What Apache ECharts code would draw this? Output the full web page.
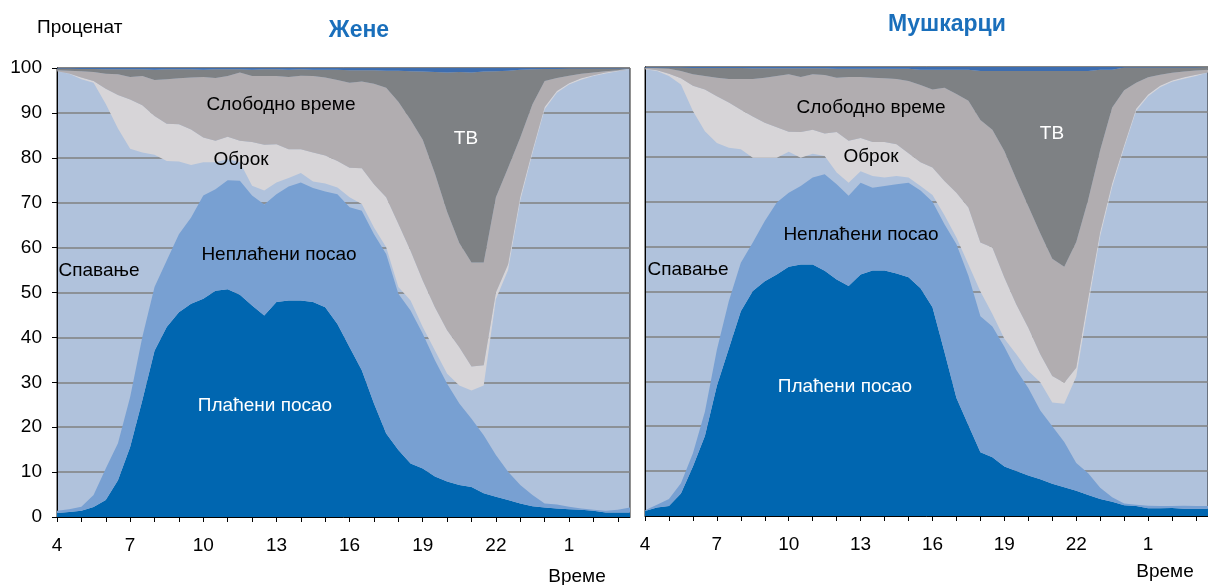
<!DOCTYPE html>
<html>
<head>
<meta charset="utf-8">
<script src="https://cdn.jsdelivr.net/npm/echarts@6/dist/echarts.min.js"></script>
<style>
  html, body { margin: 0; padding: 0; background: #fff; }
  #chart { width: 1208px; height: 585px; }
</style>
</head>
<body>
<div id="chart"></div>
<script>
// half-hour steps, 4:00 to 3:30 next day
const times = ['4:00','4:30','5:00','5:30','6:00','6:30','7:00','7:30','8:00','8:30','9:00','9:30',
  '10:00','10:30','11:00','11:30','12:00','12:30','13:00','13:30','14:00','14:30','15:00','15:30',
  '16:00','16:30','17:00','17:30','18:00','18:30','19:00','19:30','20:00','20:30','21:00','21:30',
  '22:00','22:30','23:00','23:30','0:00','0:30','1:00','1:30','2:00','2:30','3:00','3:30']

const layerNames = ['Плаћени посао', 'Неплаћени посао', 'Спавање', 'Оброк', 'Слободно време', 'ТВ', 'Остало']
const layerColors = ['#0066b0', '#78a0d2', 'transparent', '#d7d5d8', '#b1adb0', '#7e8184', '#3d6db0']

// upper edge of each layer (cumulative %) — women
const womenPaidTop = [0.9,1.1,1.4,2.2,3.8,8.2,15.6,26,37,42.3,45.6,47.5,48.6,50.4,50.7,49.5,47.1,44.9,47.9,48.2,48.2,47.9,46.7,43,
  37.8,32.7,25.3,18.6,14.9,11.9,10.8,9.0,7.9,7.1,6.7,5.3,4.5,3.8,3.0,2.4,2.1,1.9,1.7,1.6,1.4,1.0,1.0,1.0]
const womenUnpaidTop = [1.4,1.7,2.3,4.9,10.8,16.4,26.7,40.1,51.2,57.1,63.0,66.7,71.6,73.0,75.0,74.9,71.6,69.6,71.9,73.6,74.5,73.3,72.5,71.9,
  69.0,68.2,63.0,58.6,49.7,46.0,40.8,34.9,29.7,25.3,21.9,18.2,13.8,10.1,7.1,4.9,3.0,2.8,2.3,1.9,1.6,1.4,1.6,2.1]
const womenSleepTop = [99.3,98.7,97.5,96.7,92.0,86.5,82.0,81.2,80.7,79.3,79.2,78.4,79.0,79.0,79.7,79.0,73.8,72.7,74.5,75.5,76.6,74.7,74.3,73.4,
  71.2,69.7,64.5,60.1,51.2,48.2,42.3,37.1,31.9,29.3,28.2,29.3,48.5,55.0,70.5,81.0,90.8,94.5,96.3,97.4,98.2,98.8,99.3,99.5]
const womenMealTop = [99.3,98.8,97.9,97.1,95.4,94.0,93.0,91.7,89.3,87.6,87.5,86.3,84.5,83.8,84.7,83.8,83.5,82.9,83.0,81.9,81.9,81.2,80.5,79.3,
  77.8,77.7,74.1,71.2,65.3,59.3,52.7,46.7,41.6,37.8,33.5,33.8,50.0,56.3,71.3,81.6,91.3,94.9,96.6,97.7,98.4,99.0,99.4,99.6]
const womenFreeTop = [99.5,99.4,99.3,99.1,98.7,98.6,98.0,98.2,97.3,97.5,97.7,97.9,98.0,97.8,98.2,99.0,98.2,98.2,98.2,98.0,98.3,98.2,97.9,97.3,
  96.7,97.0,96.5,95.6,92.5,88.5,84.0,76.5,68.0,61.0,56.7,56.7,71.2,77.8,84.5,91.9,97.1,97.8,98.3,98.7,99.0,99.3,99.5,99.6]
const womenTvTop = [99.9,99.9,99.8,99.8,99.7,99.7,99.7,99.7,99.6,99.7,99.7,99.7,99.6,99.7,99.7,99.7,99.6,99.7,99.7,99.6,99.7,99.6,99.6,99.6,
  99.5,99.5,99.5,99.4,99.4,99.3,99.2,99.1,99.0,99.1,99.0,99.2,99.3,99.4,99.6,99.7,99.8,99.8,99.9,99.9,99.9,99.9,99.9,99.9]

// men
const menPaidTop = [1.1,1.9,2.2,5.0,11.0,17.8,29.0,37.3,45.6,50.1,52.3,53.8,55.5,56.0,56.0,54.6,52.7,51.2,53.8,54.7,54.7,54.0,53.2,50.7,
  46.5,36.5,26.3,20.2,14.2,13.1,11.0,10.0,9.0,8.2,7.2,6.4,5.6,4.7,3.8,3.2,2.4,2.2,1.7,1.7,1.8,1.6,1.6,1.6]
const menUnpaidTop = [1.3,2.5,3.8,7.3,14.0,23.2,37.0,47.9,56.4,60.9,65.7,69.8,72.0,73.5,75.4,76.1,73.9,71.3,74.2,73.1,73.5,73.9,74.2,72.5,
  70.0,65.0,60.5,53.5,44.5,42.2,37.7,32.5,28.5,23.5,20.0,16.5,11.8,9.5,6.3,4.2,2.8,2.5,2.3,2.2,2.2,2.3,2.2,2.2]
const menSleepTop = [99.5,99.1,98.0,96.1,90.2,85.7,83.1,82.0,81.7,79.8,79.8,79.8,81.1,79.8,80.7,80.2,76.5,74.2,76.8,75.7,75.4,75.7,75.4,73.5,
  71.5,67.0,62.0,56.0,50.0,45.0,39.5,36.0,32.3,29.8,25.3,25.0,31.0,47.0,62.3,73.3,82.0,90.2,93.5,95.5,96.7,97.4,98.0,98.5]
const menMealTop = [99.6,99.3,98.5,97.5,95.8,95.0,93.5,92.1,90.5,89.0,87.6,86.6,85.6,85.5,86.0,85.2,85.5,83.6,84.2,83.3,83.3,82.8,80.8,78.8,
  77.6,74.6,72.0,68.7,60.9,59.8,53.1,47.1,41.9,36.0,31.2,29.7,33.0,48.5,63.3,74.1,82.6,90.7,93.9,95.8,97.0,97.7,98.3,98.8]
const menFreeTop = [99.8,99.7,99.6,99.1,98.4,98.0,97.6,97.3,97.3,97.3,97.6,98.0,98.4,97.8,98.4,98.2,97.6,97.8,97.8,97.6,97.5,97.3,96.9,96.0,
  95.0,95.4,94.0,92.5,88.2,86.0,81.3,75.0,69.0,63.0,57.3,55.5,61.0,70.5,81.5,91.0,94.8,96.5,97.7,98.3,98.7,99.0,99.2,99.4]
const menTvTop = [99.9,99.9,99.9,99.9,99.8,99.8,99.8,99.8,99.8,99.7,99.7,99.7,99.7,99.7,99.7,99.7,99.6,99.6,99.6,99.6,99.6,99.6,99.6,99.4,
  99.4,99.4,99.4,99.4,99.1,99.1,99.1,99.1,99.1,99.1,99.1,99.1,99.1,99.1,99.4,99.4,99.9,99.9,99.9,99.9,99.9,99.9,99.9,99.9]

const FONT = '"Liberation Sans", Arial, sans-serif'

// turn upper edges into layer thicknesses for stacking (top layer fills to 100)
function layers(tops) {
  const all = tops.concat([tops[0].map(() => 100)])
  return all.map((t, k) => t.map((v, i) => {
    const below = k === 0 ? 0 : all[k - 1][i]
    return Math.max(0, +(v - below).toFixed(2))
  }))
}

const women = layers([womenPaidTop, womenUnpaidTop, womenSleepTop, womenMealTop, womenFreeTop, womenTvTop])
const men = layers([menPaidTop, menUnpaidTop, menSleepTop, menMealTop, menFreeTop, menTvTop])

function makeSeries(data, idx) {
  return data.map((d, k) => ({
    name: layerNames[k],
    type: 'line',
    xAxisIndex: idx, yAxisIndex: idx,
    stack: 'time' + idx,
    data: d,
    symbol: 'none',
    silent: true,
    lineStyle: { width: 0 },
    areaStyle: { color: layerColors[k], opacity: k === 2 ? 0 : 1 }
  }))
}

function xAxis(idx) {
  return {
    type: 'category', gridIndex: idx, data: times, boundaryGap: false,
    axisLine: { lineStyle: { color: '#000', width: 1 } },
    axisTick: { interval: 1, length: 5, lineStyle: { color: '#000' } },
    axisLabel: { interval: 5, formatter: v => v.split(':')[0], color: '#000', fontSize: 19, fontFamily: FONT, margin: 19 },
    splitLine: { show: false }
  }
}
function yAxis(idx) {
  return {
    type: 'value', gridIndex: idx, min: 0, max: 100, interval: 10,
    axisLine: { show: true, lineStyle: { color: '#000' } },
    axisTick: { show: idx === 0, length: 5, lineStyle: { color: '#000' } },
    axisLabel: { show: idx === 0, color: '#000', fontSize: 19, fontFamily: FONT, margin: 15 },
    splitLine: { show: true, lineStyle: { color: '#808080', width: 1.5 } }
  }
}

function label(text, x, y, color, font) {
  return {
    type: 'text', x: x, y: y, silent: true, z: 100,
    style: { text: text, fill: color || '#000', font: font || ('19px ' + FONT), align: 'center', verticalAlign: 'middle' }
  }
}

const chart = echarts.init(document.getElementById('chart'), null, { renderer: 'canvas' })
chart.setOption({
  animation: false,
  backgroundColor: '#fff',
  grid: [
    { left: 57, top: 68, width: 573, height: 449, show: true, backgroundColor: '#b0c2dc', borderColor: '#222', borderWidth: 1 },
    { left: 645, top: 67, width: 573, height: 449, show: true, backgroundColor: '#b0c2dc', borderColor: '#222', borderWidth: 1 }
  ],
  xAxis: [xAxis(0), xAxis(1)],
  yAxis: [yAxis(0), yAxis(1)],
  series: makeSeries(women, 0).concat(makeSeries(men, 1)),
  graphic: [
    { type: 'text', x: 37, y: 28, style: { text: 'Проценат', fill: '#000', font: '19px ' + FONT, align: 'left', verticalAlign: 'middle' } },
    label('Жене', 359, 31, '#1a6fbb', 'bold 23px ' + FONT),
    label('Мушкарци', 947, 25, '#1a6fbb', 'bold 23px ' + FONT),
    label('Време', 577, 577),
    label('Време', 1165, 572),
    label('Слободно време', 281, 105),
    label('ТВ', 466, 139, '#fff'),
    label('Оброк', 241, 160),
    label('Неплаћени посао', 279, 255),
    label('Спавање', 99, 271),
    label('Плаћени посао', 265, 406, '#fff'),
    label('Слободно време', 871, 108),
    label('ТВ', 1052, 134, '#fff'),
    label('Оброк', 871, 157),
    label('Неплаћени посао', 861, 235),
    label('Спавање', 688, 270),
    label('Плаћени посао', 845, 387, '#fff')
  ]
})
</script>
</body>
</html>
